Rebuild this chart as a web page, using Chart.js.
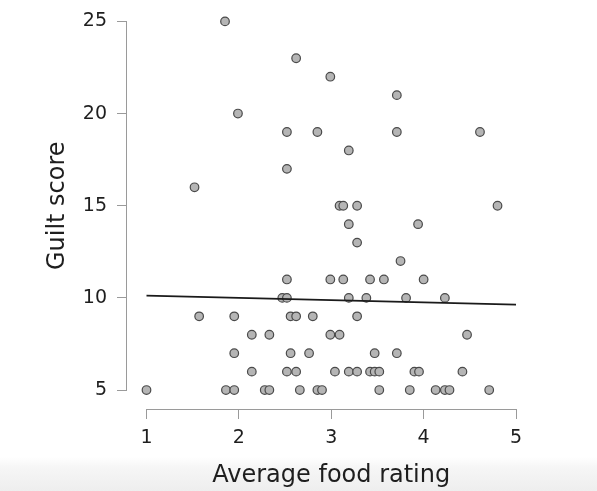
<!DOCTYPE html>
<html>
<head>
<meta charset="utf-8">
<title>Guilt score vs average food rating</title>
<script src="https://cdn.jsdelivr.net/npm/chart.js@4/dist/chart.umd.min.js"></script>
<style>
  html, body {
    margin: 0;
    padding: 0;
    width: 597px;
    height: 491px;
    overflow: hidden;
    background: linear-gradient(to bottom, #ffffff 0px, #ffffff 457px, #f6f6f6 467px, #eeeeee 491px);
  }
  #chart { position: absolute; left: 0; top: 0; }
</style>
</head>
<body>
<canvas id="chart" width="597" height="491"></canvas>
<script>
// Average food rating (x) and guilt score (y) for each respondent
const foodRating = [
  1.85,
  2.62,
  2.99,
  3.71,
  1.99,
  2.52, 2.85, 3.71, 4.61,
  3.19,
  2.52,
  1.52,
  3.09, 3.13, 3.28, 4.80,
  3.19, 3.94,
  3.28,
  3.75,
  2.52, 2.99, 3.13, 3.42, 3.57, 4.00,
  2.47, 2.52, 3.19, 3.38, 3.81, 4.23,
  1.57, 1.95, 2.56, 2.62, 2.80, 3.28,
  2.14, 2.33, 2.99, 3.09, 4.47,
  1.95, 2.56, 2.76, 3.47, 3.71,
  2.14, 2.52, 2.62, 3.04, 3.19, 3.28, 3.42, 3.47, 3.52, 3.90, 3.95, 4.42,
  1.00, 1.86, 1.95, 2.28, 2.33, 2.66, 2.85, 2.90, 3.52, 3.85, 4.13, 4.23, 4.28, 4.71
];
const guiltScore = [
  25,
  23,
  22,
  21,
  20,
  19, 19, 19, 19,
  18,
  17,
  16,
  15, 15, 15, 15,
  14, 14,
  13,
  12,
  11, 11, 11, 11, 11, 11,
  10, 10, 10, 10, 10, 10,
  9, 9, 9, 9, 9, 9,
  8, 8, 8, 8, 8,
  7, 7, 7, 7, 7,
  6, 6, 6, 6, 6, 6, 6, 6, 6, 6, 6, 6,
  5, 5, 5, 5, 5, 5, 5, 5, 5, 5, 5, 5, 5, 5
];

// Fitted regression line, evaluated at the ends of the rating range
const fitX = [1, 5];
const fitY = [10.12, 9.64];

// Tick labels
const xTicks = [1, 2, 3, 4, 5];
const yTicks = [5, 10, 15, 20, 25];

const xTitle = 'Average food rating';
const yTitle = 'Guilt score';

const FONT = '"DejaVu Sans", "Liberation Sans", sans-serif';
const AXIS_COLOR = '#9a9a9a';
const TEXT_COLOR = '#1e1e1e';

const points = foodRating.map((x, i) => ({ x: x, y: guiltScore[i] }));
const fitLine = fitX.map((x, i) => ({ x: x, y: fitY[i] }));

// Axis lines span only the tick range, detached from the plot corner;
// axis titles are centred on that tick range.
const detachedAxes = {
  id: 'detachedAxes',
  afterDraw(chart) {
    const ctx = chart.ctx;
    const xs = chart.scales.x;
    const ys = chart.scales.y;
    const xa = xs.getPixelForValue(xTicks[0]);
    const xb = xs.getPixelForValue(xTicks[xTicks.length - 1]);
    const ya = ys.getPixelForValue(yTicks[0]);
    const yb = ys.getPixelForValue(yTicks[yTicks.length - 1]);
    const bottom = Math.round(chart.chartArea.bottom) + 0.5;
    const left = Math.round(chart.chartArea.left) - 0.5;

    ctx.save();
    ctx.strokeStyle = AXIS_COLOR;
    ctx.lineWidth = 1;
    ctx.beginPath();
    ctx.moveTo(Math.round(xa) + 0.5, bottom);
    ctx.lineTo(Math.round(xb) + 0.5, bottom);
    ctx.moveTo(left, Math.round(ya) + 0.5);
    ctx.lineTo(left, Math.round(yb) + 0.5);
    ctx.stroke();

    ctx.fillStyle = TEXT_COLOR;
    ctx.font = '24px ' + FONT;
    ctx.textAlign = 'center';
    ctx.textBaseline = 'alphabetic';
    ctx.fillText(xTitle, (xa + xb) / 2, 482);

    ctx.translate(63.5, (ya + yb) / 2);
    ctx.rotate(-Math.PI / 2);
    ctx.fillText(yTitle, 0, 0);
    ctx.restore();
  }
};

new Chart(document.getElementById('chart'), {
  type: 'scatter',
  data: {
    datasets: [
      {
        type: 'line',
        data: fitLine,
        borderColor: '#1a1a1a',
        borderWidth: 1.8,
        pointRadius: 0,
        fill: false,
        order: 0
      },
      {
        data: points,
        backgroundColor: '#b5b5b5',
        borderColor: '#4a4a4a',
        borderWidth: 1.2,
        pointRadius: 4.3,
        clip: false,
        order: 1
      }
    ]
  },
  options: {
    responsive: false,
    animation: false,
    events: [],
    layout: { padding: { left: 0, right: 81, top: 20, bottom: 0 } },
    plugins: {
      legend: { display: false },
      tooltip: { enabled: false }
    },
    scales: {
      x: {
        type: 'linear',
        min: 0.789,
        max: 5,
        afterBuildTicks(scale) { scale.ticks = xTicks.map(v => ({ value: v })); },
        afterFit(scale) { scale.height = 82; },
        border: { display: false },
        grid: {
          drawOnChartArea: false,
          drawTicks: true,
          tickLength: 10,
          color: AXIS_COLOR,
          lineWidth: 1
        },
        ticks: {
          padding: 8,
          maxRotation: 0,
          color: TEXT_COLOR,
          font: { family: FONT, size: 19 },
          callback: v => String(v)
        }
      },
      y: {
        type: 'linear',
        min: 3.973,
        max: 25,
        afterBuildTicks(scale) { scale.ticks = yTicks.map(v => ({ value: v })); },
        afterFit(scale) { scale.width = 127; },
        border: { display: false },
        grid: {
          drawOnChartArea: false,
          drawTicks: true,
          tickLength: 10,
          color: AXIS_COLOR,
          lineWidth: 1
        },
        ticks: {
          padding: 10,
          color: TEXT_COLOR,
          font: { family: FONT, size: 19 },
          callback: v => String(v)
        }
      }
    }
  },
  plugins: [detachedAxes]
});
</script>
</body>
</html>
